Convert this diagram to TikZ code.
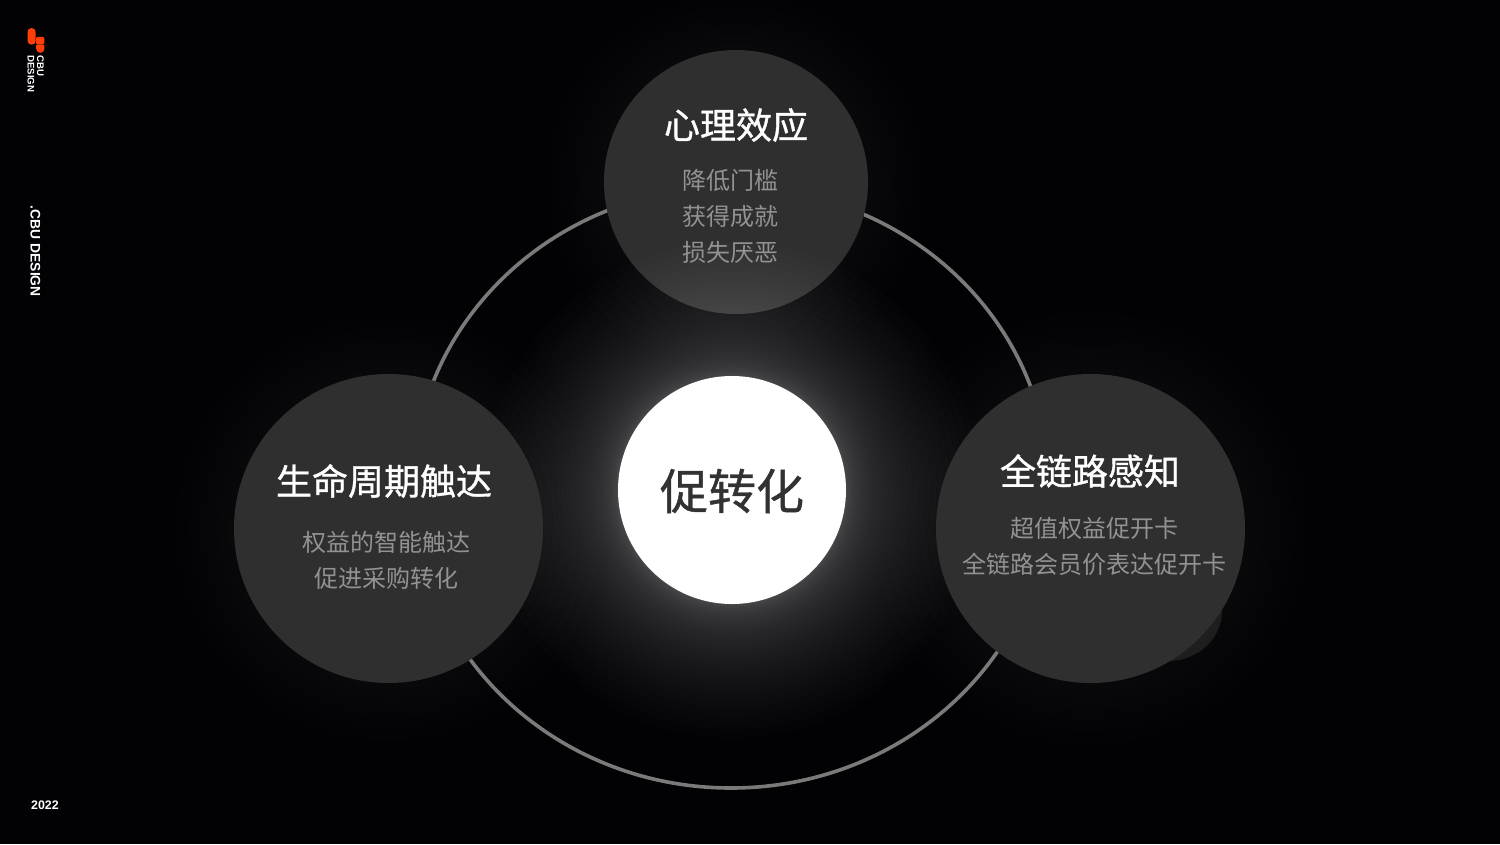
\documentclass[tikz,border=0pt]{standalone}
\usepackage{fontspec}
\newfontfamily\cjk{Noto Sans CJK SC}
\newfontfamily\cjkmid{Noto Sans CJK SC}[FakeBold=0.9]
\newfontfamily\latinbold{Liberation Sans}[BoldFont={Liberation Sans Bold}]
\definecolor{pagebg}{RGB}{2,2,4}
\definecolor{discgray}{RGB}{47,47,47}
\definecolor{blobgray}{RGB}{30,30,30}
\definecolor{ringgray}{RGB}{122,122,122}
\definecolor{subgray}{RGB}{146,146,146}
\definecolor{coretext}{RGB}{50,50,50}
\definecolor{logored}{RGB}{255,62,10}
\tikzset{
  disc/.style={circle,fill=discgray,inner sep=0pt},
  titletext/.style={text=white,font=\cjkmid\fontsize{27}{32}\selectfont,align=center,inner sep=0pt},
  subtext/.style={text=subgray,font=\cjk\fontsize{18}{27}\selectfont,align=center,inner sep=0pt},
  sidetext/.style={text=white,inner sep=0pt}
}
% centre x, centre y, inner radius, reach, steps, power, opacity of one step
\newcommand{\glowround}[7]{
  \foreach \i in {1,...,#5} {
    \pgfmathsetmacro{\glowr}{#3+#4*(\i/#5)^#6}
    \fill [white,fill opacity=#7] (#1,#2) circle [radius=\glowr];
  }
}
\begin{document}
\begin{tikzpicture}[x=0.75pt,y=0.75pt,yscale=-1,xscale=1]
%Shape: Page
\fill [pagebg] (0,0) rectangle (1500,844);
\useasboundingbox (0,0) rectangle (1500,844);

%Shape: Glows of the outer discs
\glowround{736}{182}{132}{55}{6}{1.2}{0.008}
\glowround{388.5}{528.5}{154}{58}{6}{1.2}{0.008}
\glowround{1090.5}{528.5}{154}{62}{6}{1.2}{0.008}

%Shape: Ring
\draw [ringgray,line width=2.7pt] (731,487.5) ellipse [x radius=318,y radius=300.5];

%Shape: Top disc, under the glow of the core
\node [disc,minimum size=198pt] (topdisc) at (736,182) {};

%Shape: Glow of the core
\glowround{732}{490}{113}{135}{40}{2.4}{0.012}

%Shape: Blob behind the right disc
\fill [blobgray] (1168,611) ellipse [x radius=54,y radius=50];

%Shape: Discs
\node [disc,minimum size=231.75pt] (leftdisc) at (388.5,528.5) {};
\node [disc,minimum size=231.75pt] (rightdisc) at (1090.5,528.5) {};
\node [circle,fill=white,inner sep=0pt,minimum size=171pt] (coredisc) at (732,490) {};

%Texts
\node [text=coretext,font=\cjkmid\fontsize{36}{40}\selectfont,inner sep=0pt] (coretitle) at (732,491) {促转化};
\node [titletext] (toptitle) at (736,125) {心理效应};
\node [subtext] (topsub) at (730,216) {降低门槛\\获得成就\\损失厌恶};
\node [titletext] (lefttitle) at (384,481) {生命周期触达};
\node [subtext] (leftsub) at (386,560) {权益的智能触达\\促进采购转化};
\node [titletext] (righttitle) at (1090,471) {全链路感知};
\node [subtext] (rightsub) at (1094,546) {超值权益促开卡\\全链路会员价表达促开卡};

%Logo
\fill [logored,rounded corners=3pt] (27.5,28) rectangle (35.7,44.7);
\fill [logored,rounded corners=1pt] (36,36.8) rectangle (44.3,44.5);
\fill [logored] (36,45) -- (44.3,45) -- (44.3,49) .. controls (44.3,51.5) and (42.5,52.8) .. (40.2,52.8) .. controls (38,52.8) and (36,51) .. (36,48) -- cycle;
\node [sidetext,font=\latinbold\bfseries\fontsize{7.2}{8}\selectfont,rotate=-90,anchor=west] (logocbu) at (40.5,55) {CBU};
\node [sidetext,font=\latinbold\bfseries\fontsize{7.2}{8}\selectfont,rotate=-90,anchor=west] (logodesign) at (31,55) {DESIGN};
\node [sidetext,font=\latinbold\bfseries\fontsize{10.4}{12}\selectfont,rotate=-90,anchor=west] (sidename) at (35.5,205.5) {.CBU DESIGN};
\node [sidetext,font=\latinbold\bfseries\fontsize{9.3}{11}\selectfont] (yearlabel) at (45,805) {2022};
\end{tikzpicture}
\end{document}
